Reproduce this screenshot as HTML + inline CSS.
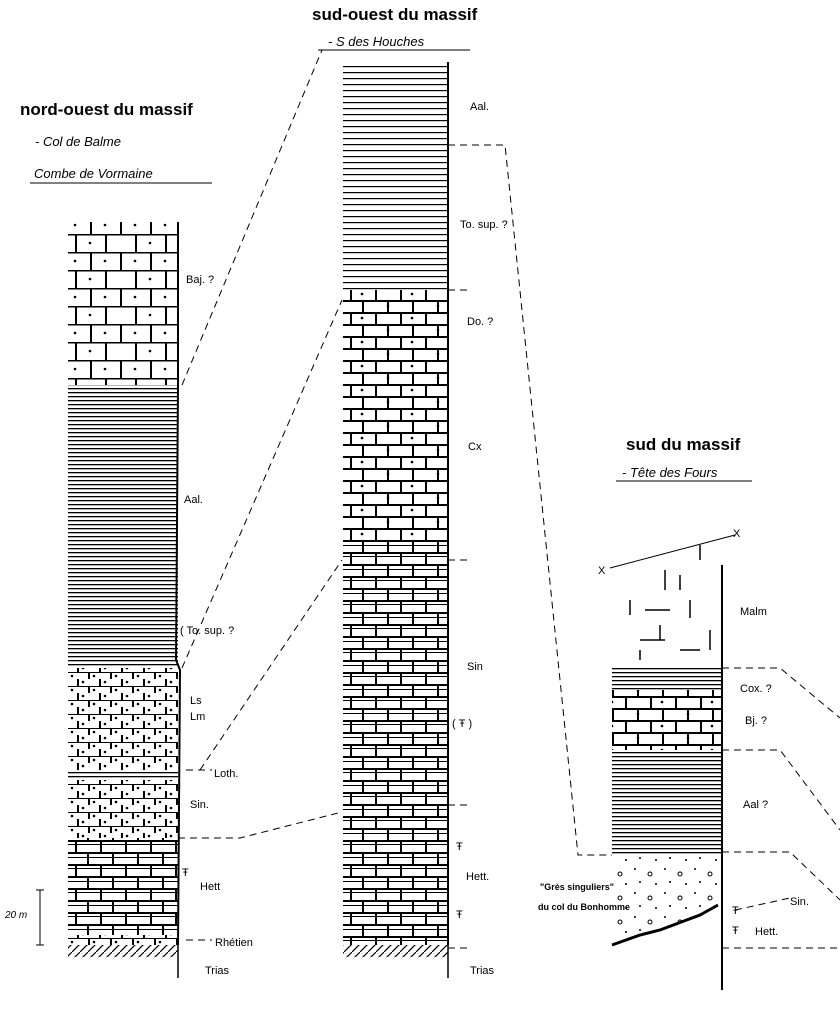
<!DOCTYPE html>
<html><head><meta charset="utf-8"><style>
body{margin:0;background:#fff}
svg{display:block}
text{font-family:"Liberation Sans",sans-serif;fill:#000}
.it{font-style:italic;font-size:13px}
.lb{font-size:11px}
.t{font-weight:bold;font-size:17px}
</style></head><body>
<svg width="840" height="1016" viewBox="0 0 840 1016">
<defs>
<pattern id="ln" width="10" height="4" patternUnits="userSpaceOnUse"><rect width="10" height="1.3" fill="#000"/></pattern>
<pattern id="ln2" width="10" height="6" patternUnits="userSpaceOnUse"><rect width="10" height="1.2" fill="#000"/></pattern>
<pattern id="br" width="60" height="36" patternUnits="userSpaceOnUse">
<rect width="60" height="1.5" y="0"/><rect width="60" height="1.5" y="18"/>
<rect x="0" width="2" height="18"/><rect x="30" width="2" height="18"/>
<rect x="15" y="18" width="2" height="18"/><rect x="45" y="18" width="2" height="18"/>
<circle cx="15" cy="9" r="1.3"/><circle cx="45" cy="9" r="1.3"/><circle cx="30" cy="27" r="1.3"/></pattern>
<pattern id="br2" width="50" height="24" patternUnits="userSpaceOnUse">
<rect width="50" height="2" y="0"/><rect width="50" height="2" y="12"/>
<rect x="0" width="2" height="12"/><rect x="25" width="2" height="12"/>
<rect x="12" y="12" width="2" height="12"/><rect x="37" y="12" width="2" height="12"/>
<circle cx="12" cy="6" r="1.3"/><circle cx="38" cy="18" r="1.3"/></pattern>
<pattern id="brl" width="50" height="24" patternUnits="userSpaceOnUse">
<rect width="50" height="2" y="0"/><rect width="50" height="1" y="4"/><rect width="50" height="2" y="12"/><rect width="50" height="1" y="17"/>
<rect x="0" width="2" height="12"/><rect x="25" width="2" height="12"/>
<rect x="12" y="12" width="2" height="12"/><rect x="37" y="12" width="2" height="12"/></pattern>
<pattern id="dl" width="22" height="14" patternUnits="userSpaceOnUse">
<rect width="22" height="1" y="0"/><rect x="0" width="2" height="7"/><rect x="11" y="7" width="2" height="7"/>
<circle cx="6" cy="4" r="1.3"/><circle cx="17" cy="10" r="1.3"/></pattern>
<pattern id="ht" width="8" height="8" patternUnits="userSpaceOnUse"><path d="M0 8L8 0" stroke="#000" stroke-width="1.2"/></pattern>
<pattern id="gr" width="30" height="24" patternUnits="userSpaceOnUse"><circle cx="5" cy="5" r="1"/><circle cx="20" cy="10" r="2" fill="none" stroke="#000"/><circle cx="10" cy="18" r="1"/><circle cx="26" cy="20" r="1"/></pattern>
</defs>
<text x="312" y="20" class="t">sud-ouest du massif</text>
<text x="328" y="46" class="it">- S des Houches</text>
<line x1="318" y1="50" x2="470" y2="50" stroke="#000"/>
<text x="20" y="115" class="t">nord-ouest du massif</text>
<text x="35" y="146" class="it">- Col de Balme</text>
<text x="34" y="178" class="it">Combe de Vormaine</text>
<line x1="30" y1="183" x2="212" y2="183" stroke="#000"/>
<text x="626" y="450" class="t">sud du massif</text>
<text x="622" y="477" class="it">- Tête des Fours</text>
<line x1="616" y1="481" x2="752" y2="481" stroke="#000"/>

<!-- col1 -->
<rect x="68" y="222" width="110" height="163" fill="url(#br)"/>
<rect x="68" y="385" width="110" height="283" fill="url(#ln)"/>
<rect x="68" y="668" width="110" height="102" fill="url(#dl)"/>
<rect x="68" y="770" width="110" height="10" fill="url(#ln)"/>
<rect x="68" y="780" width="110" height="58" fill="url(#dl)"/>
<rect x="68" y="838" width="110" height="97" fill="url(#brl)"/>
<rect x="68" y="935" width="110" height="10" fill="url(#dl)"/>
<rect x="68" y="945" width="110" height="12" fill="url(#ht)"/>
<path d="M178 222V385L176 660 180 670 178 945" fill="none" stroke="#000" stroke-width="2"/>
<line x1="178" y1="945" x2="178" y2="978" stroke="#000" stroke-width="1.5"/>
<g class="lb">
<text x="186" y="283">Baj. ?</text><text x="184" y="503">Aal.</text><text x="180" y="634">( To. sup. ?</text>
<text x="190" y="704">Ls</text><text x="190" y="720">Lm</text><text x="214" y="777">Loth.</text>
<text x="190" y="808">Sin.</text><text x="182" y="876">Ŧ</text><text x="200" y="890">Hett</text>
<text x="215" y="946">Rhétien</text><text x="205" y="974">Trias</text>
<text x="5" y="918" class="it" style="font-size:10px">20 m</text></g>
<path d="M40 890V945M36 890H44M36 945H44" stroke="#000"/>
<!-- col2 -->
<rect x="343" y="62" width="105" height="228" fill="url(#ln2)"/>
<rect x="343" y="290" width="105" height="45" fill="url(#br2)"/>
<rect x="343" y="335" width="105" height="210" fill="url(#br2)"/>
<rect x="343" y="545" width="105" height="255" fill="url(#brl)"/>
<rect x="343" y="800" width="105" height="145" fill="url(#brl)"/>
<rect x="343" y="945" width="105" height="12" fill="url(#ht)"/>
<path d="M448 62V945" stroke="#000" stroke-width="2"/>
<line x1="448" y1="945" x2="448" y2="978" stroke="#000" stroke-width="1.5"/>
<g class="lb"><text x="470" y="110">Aal.</text><text x="460" y="228">To. sup. ?</text><text x="467" y="325">Do. ?</text>
<text x="468" y="450">Cx</text><text x="467" y="670">Sin</text><text x="452" y="727">( Ŧ )</text>
<text x="456" y="850">Ŧ</text><text x="466" y="880">Hett.</text><text x="456" y="918">Ŧ</text><text x="470" y="974">Trias</text></g>
<!-- col3 -->
<rect x="612" y="668" width="110" height="22" fill="url(#ln)"/>
<rect x="612" y="690" width="110" height="60" fill="url(#br2)"/>
<rect x="612" y="750" width="110" height="105" fill="url(#ln)"/>
<path d="M612 855H722L718 900 700 915 660 930 612 945Z" fill="url(#gr)"/>
<path d="M612 945L640 935 660 930 700 915 718 905" fill="none" stroke="#000" stroke-width="3"/>
<g stroke="#000" stroke-width="1.5"><path d="M665 570V590M700 545V560M630 600V615M690 600V618M660 625V640M710 630V650M640 650V660M680 575V590"/>
<path d="M645 610H670M640 640H665M680 650H700"/></g>
<path d="M722 565V990" stroke="#000" stroke-width="2"/>
<line x1="610" y1="568" x2="735" y2="535" stroke="#000"/>
<g class="lb"><text x="598" y="574">X</text><text x="733" y="537">X</text><text x="740" y="615">Malm</text>
<text x="740" y="692">Cox. ?</text><text x="745" y="724">Bj. ?</text><text x="743" y="808">Aal ?</text>
<text x="732" y="914">Ŧ</text><text x="732" y="934">Ŧ</text><text x="790" y="905">Sin.</text><text x="755" y="935">Hett.</text></g>
<text x="540" y="890" style="font-size:9px;font-weight:bold">"Grès singuliers"</text>
<text x="538" y="910" style="font-size:9px;font-weight:bold">du col du Bonhomme</text>
<!-- correlations -->
<g fill="none" stroke="#000" stroke-width="1" stroke-dasharray="7,5">
<path d="M182 385L322 50"/>
<path d="M182 668L342 300"/>
<path d="M200 770L342 560"/>
<path d="M178 838H240L342 812"/>
<path d="M448 145H505L578 855H612"/>
<path d="M448 290H470M448 560H470M448 805H470M448 948H470"/>
<path d="M186 770H212M186 940H212"/>
<path d="M722 668H780L840 718"/>
<path d="M722 750H780L840 830"/>
<path d="M722 852H790L840 900"/>
<path d="M722 948H840"/>
<path d="M735 910L790 898"/>
</g>
</svg>
</body></html>
